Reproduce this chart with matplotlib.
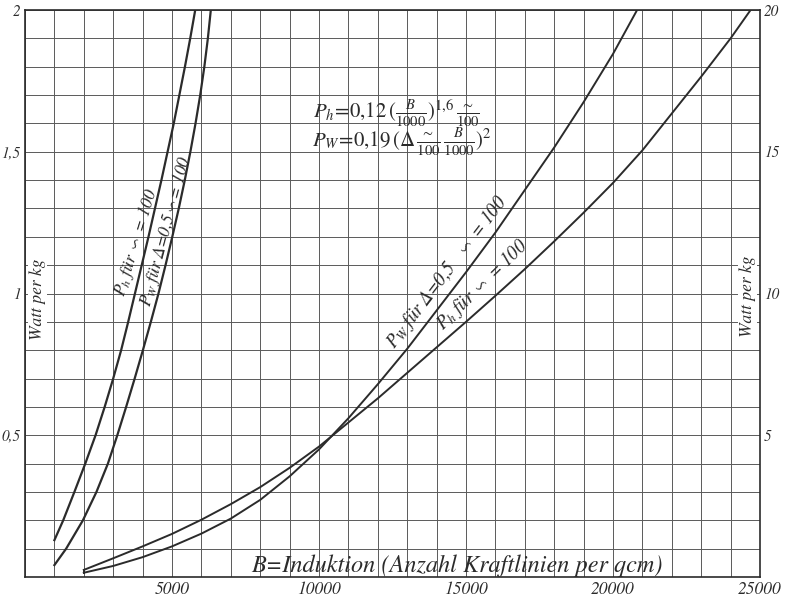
import numpy as np
import matplotlib.pyplot as plt

plt.rcParams['mathtext.fontset'] = 'stix'
plt.rcParams['font.family'] = ['STIXGeneral', 'DejaVu Serif', 'DejaVu Sans']

# left scale (0..2 Watt per kg), curves for small B
b_ph_low = [1000, 1300, 1680, 2050, 2400, 2710, 3000, 3270, 3510, 3740, 3970,
            4200, 4420, 4640, 4850, 5060, 5250, 5440, 5620, 5790]
p_ph_low = [0.13, 0.2, 0.3, 0.4, 0.5, 0.6, 0.7, 0.8, 0.9, 1.0, 1.1,
            1.2, 1.3, 1.4, 1.5, 1.6, 1.7, 1.8, 1.9, 2.0]
b_pw_low = [1000, 1400, 1970, 2430, 2820, 3140, 3440, 3730, 4010, 4280, 4540,
            4780, 5010, 5230, 5435, 5625, 5800, 5960, 6100, 6220, 6320]
p_pw_low = [0.042, 0.1, 0.2, 0.3, 0.4, 0.5, 0.6, 0.7, 0.8, 0.9, 1.0,
            1.1, 1.2, 1.3, 1.4, 1.5, 1.6, 1.7, 1.8, 1.9, 2.0]

# right scale (0..20 Watt per kg)
b_ph = [2000, 3000, 4000, 5000, 6000, 7000, 8000, 9000, 10000, 11000, 12000,
        13000, 14000, 15000, 16000, 17000, 18000, 19000, 20000, 21000, 22000,
        23000, 24000, 24680]
p_ph = [0.25, 0.66, 1.08, 1.52, 2.02, 2.57, 3.17, 3.85, 4.6, 5.45, 6.3,
        7.2, 8.1, 9.0, 9.92, 10.86, 11.84, 12.85, 13.9, 15.05, 16.35,
        17.65, 19.0, 20.0]
b_pw = [2000, 3000, 4000, 5000, 6000, 7000, 8000, 9000, 10000, 11000, 12000,
        13000, 14000, 15000, 16000, 17000, 18000, 19000, 20000, 20820]
p_pw = [0.15, 0.39, 0.7, 1.08, 1.53, 2.06, 2.72, 3.55, 4.5, 5.6, 6.8,
        8.05, 9.4, 10.75, 12.15, 13.65, 15.15, 16.75, 18.45, 20.0]

x_ticks = [5000, 10000, 15000, 20000, 25000]
left_ticks = [0.5, 1, 1.5, 2]
left_labels = ['0,5', '1', '1,5', '2']
right_ticks = [5, 10, 15, 20]

ink = '#2b2b2b'
tfont = dict(style='italic', color=ink)
wave = r'$\backsim$'

fig = plt.figure(figsize=(7.85, 5.97), dpi=100)
ax = fig.add_axes([25 / 785, 20 / 597, 735 / 785, 567 / 597])
ax.set_xlim(0, 25000)
ax.set_ylim(0, 2)
ax.set_xticks(np.arange(0, 25001, 1000), minor=True)
ax.set_yticks(np.arange(0, 2.001, 0.1), minor=True)
ax.set_xticks(x_ticks)
ax.set_xticklabels([str(v) for v in x_ticks], fontsize=12.5, **tfont)
ax.set_yticks(left_ticks)
ax.set_yticklabels(left_labels, fontsize=11, **tfont)
ax.grid(which='both', color='#5a5a5a', lw=0.7)
ax.tick_params(which='both', length=0, pad=3)
for s in ax.spines.values():
    s.set_color(ink)
    s.set_linewidth(1.2)

ax2 = ax.twinx()
ax2.set_ylim(0, 20)
ax2.set_yticks(right_ticks)
ax2.set_yticklabels([str(v) for v in right_ticks], fontsize=11, **tfont)
ax2.tick_params(length=0, pad=3)
for s in ax2.spines.values():
    s.set_visible(False)

ax.plot(b_ph_low, p_ph_low, color=ink, lw=1.6)
ax.plot(b_pw_low, p_pw_low, color=ink, lw=1.6)
ax2.plot(b_ph, p_ph, color=ink, lw=1.4)
ax2.plot(b_pw, p_pw, color=ink, lw=1.4)
ax2.plot([2000, 2000], [p_pw[0], p_ph[0]], color=ink, lw=1.4)

# curve labels
ax.text(3780, 1.18, r'$P_h$ für ' + wave + ' = 100', rotation=73, ha='center',
        va='center', fontsize=12.5, rotation_mode='anchor', **tfont)
ax.text(4790, 1.22, r'$P_W$ für Δ=0,5' + wave + '= 100', rotation=75,
        ha='center', va='center', fontsize=12.5, rotation_mode='anchor', **tfont)
ax2.text(14350, 10.75, r'$P_W$ für Δ=0,5   ' + wave + ' = 100', rotation=52.5,
         ha='center', va='center', fontsize=13.5, rotation_mode='anchor', **tfont)
ax2.text(15550, 10.3, r'$P_h$ für ' + wave + ' = 100', rotation=44.4,
         ha='center', va='center', fontsize=13.5, rotation_mode='anchor', **tfont)

ax.text(9800, 1.637, r'$P_h\!=\!0{,}12\,(\frac{B}{1000})^{1{,}6}\,\frac{\sim}{100}$',
        ha='left', va='center', fontsize=15, color=ink)
ax.text(9750, 1.534, r'$P_W\!=\!0{,}19\,(\Delta\,\frac{\sim}{100}\,\frac{B}{1000})^2$',
        ha='left', va='center', fontsize=15, color=ink)

ax.text(14680, 0.04, 'B=Induktion (Anzahl Kraftlinien per qcm)', ha='center',
        va='center', fontsize=17.5, **tfont)
ax.text(430, 0.98, 'Watt per kg', rotation=90, ha='center', va='center',
        fontsize=12.5, bbox=dict(fc='white', ec='none', pad=1), **tfont)
ax.text(24580, 0.99, 'Watt per kg', rotation=90, ha='center', va='center',
        fontsize=12.5, bbox=dict(fc='white', ec='none', pad=1), **tfont)

fig.savefig('out.png', dpi=100)
